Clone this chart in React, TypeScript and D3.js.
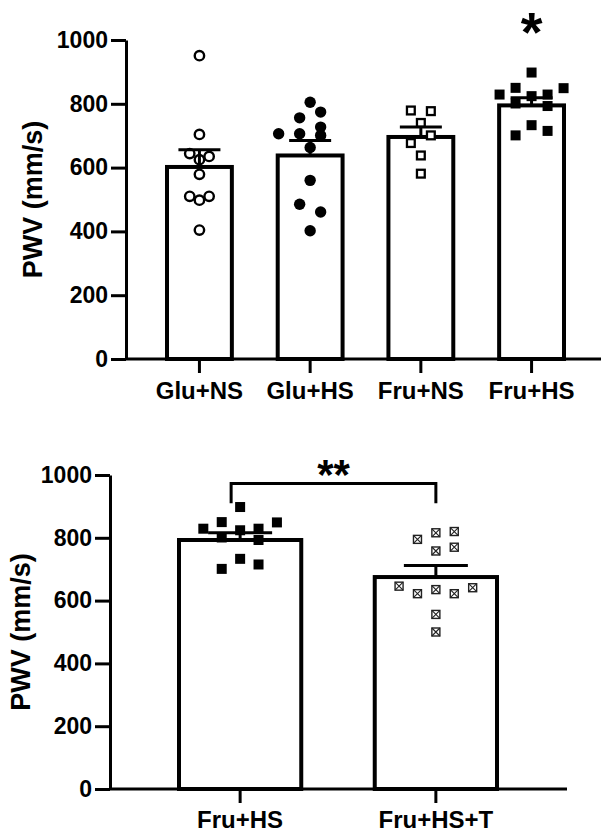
import React, { useEffect, useRef } from 'react';
import * as d3 from 'd3';

// ---- top panel data ----
const topGroups = ['Glu+NS', 'Glu+HS', 'Fru+NS', 'Fru+HS'];
const topMeans = [602, 638, 696, 795];
const topSem = [54, 47, 31, 24];

const gluNs = [951, 704, 644, 635, 625, 579, 510, 498, 510, 404];
const gluNsCol = [0, 0, -1, 1, 0, 0, -1, 0, 1, 0];
const gluHs = [805, 774, 756, 706, 706, 727, 701, 663, 560, 485, 461, 402];
const gluHsCol = [0, 1, -1, -3, -1, 1, 1, 0, 0, -1, 1, 0];
const fruNs = [779, 777, 740, 701, 677, 638, 581];
const fruNsCol = [-1, 1, 0, 1, -1, 0, 0];
const fruHs = [898, 850, 849, 829, 824, 829, 801, 793, 733, 701, 715];
const fruHsCol = [0, -2, 4, -4, 0, 2, -2, 2, 0, -2, 2];

// ---- bottom panel data ----
const bottomGroups = ['Fru+HS', 'Fru+HS+T'];
const bottomMeans = [793, 675];
const bottomSem = [23, 37];
const fruHsT = [795, 816, 820, 758, 770, 646, 622, 635, 622, 641, 556, 500];
const fruHsTCol = [-2, 0, 2, 0, 2, -4, -2, 0, 2, 4, 0, 0];

const yTicks = [0, 200, 400, 600, 800, 1000];
const FONT = "'Liberation Sans', Arial, sans-serif";

function drawMarker(g, type, cx, cy) {
  if (type === 'circleOpen') {
    g.append('circle').attr('cx', cx).attr('cy', cy).attr('r', 4.7)
      .attr('fill', 'white').attr('stroke', 'black').attr('stroke-width', 2.4);
  } else if (type === 'circleFilled') {
    g.append('circle').attr('cx', cx).attr('cy', cy).attr('r', 5.7).attr('fill', 'black');
  } else if (type === 'squareOpen') {
    g.append('rect').attr('x', cx - 3.9).attr('y', cy - 3.9).attr('width', 7.8).attr('height', 7.8)
      .attr('fill', 'white').attr('stroke', 'black').attr('stroke-width', 2.3);
  } else if (type === 'squareFilled') {
    g.append('rect').attr('x', cx - 5).attr('y', cy - 5).attr('width', 10).attr('height', 10).attr('fill', 'black');
  } else {
    const s = 4;
    g.append('rect').attr('x', cx - s).attr('y', cy - s).attr('width', 2 * s).attr('height', 2 * s)
      .attr('fill', 'white').attr('stroke', '#222').attr('stroke-width', 1.4);
    g.append('path').attr('d', `M${cx - s},${cy - s}L${cx + s},${cy + s}M${cx + s},${cy - s}L${cx - s},${cy + s}`)
      .attr('stroke', '#222').attr('stroke-width', 1.1);
  }
}

function drawPanel(svg, o) {
  const y = d3.scaleLinear().domain([0, 1000]).range([o.bottom, o.top]);
  const x = d3.scaleBand().domain(o.groups).range([o.bandLeft, o.bandRight])
    .paddingInner(o.pad).paddingOuter(0);
  const bw = x.bandwidth();
  const g = svg.append('g');

  // bars
  g.selectAll('rect.bar').data(o.groups).enter().append('rect')
    .attr('class', 'bar')
    .attr('x', d => x(d) + 2)
    .attr('width', bw - 4)
    .attr('y', (d, i) => y(o.means[i]))
    .attr('height', (d, i) => y(0) - y(o.means[i]))
    .attr('fill', 'white').attr('stroke', 'black').attr('stroke-width', 4);

  // scatter points
  o.groups.forEach((grp, i) => {
    const c = x(grp) + bw / 2;
    o.points[i].forEach((v, j) => {
      drawMarker(g, o.markers[i], c + o.cols[i][j] * o.colStep[i], y(v));
    });
  });

  // error bars (mean + SEM)
  o.groups.forEach((grp, i) => {
    const c = x(grp) + bw / 2;
    const yt = y(o.means[i] + o.sems[i]);
    g.append('path')
      .attr('d', `M${c},${y(o.means[i])}V${yt}M${c - o.capW / 2},${yt}H${c + o.capW / 2}`)
      .attr('stroke', 'black').attr('stroke-width', 3).attr('fill', 'none');
  });

  // y axis
  const ya = svg.append('g').attr('transform', `translate(${o.axisX},0)`)
    .call(d3.axisLeft(y).tickValues(yTicks).tickFormat(d3.format('d'))
      .tickSize(15).tickSizeOuter(0).tickPadding(3));
  ya.selectAll('path, line').attr('stroke-width', 3).attr('stroke', 'black');
  ya.selectAll('text').attr('font-size', 23).attr('font-weight', 'bold')
    .attr('font-family', FONT).attr('fill', 'black');

  // x axis
  svg.append('line').attr('x1', o.axisX).attr('x2', o.axisRight)
    .attr('y1', y(0)).attr('y2', y(0)).attr('stroke', 'black').attr('stroke-width', 3);
  o.groups.forEach(grp => {
    const c = x(grp) + bw / 2;
    svg.append('line').attr('x1', c).attr('x2', c).attr('y1', y(0)).attr('y2', y(0) + 14)
      .attr('stroke', 'black').attr('stroke-width', 3);
    svg.append('text').attr('x', c).attr('y', o.labelY).attr('text-anchor', 'middle')
      .attr('font-size', 24).attr('font-weight', 'bold').attr('font-family', FONT).text(grp);
  });

  // y title
  svg.append('text')
    .attr('transform', `translate(${o.titleX},${(o.top + o.bottom) / 2}) rotate(-90)`)
    .attr('text-anchor', 'middle').attr('font-size', 27).attr('font-weight', 'bold')
    .attr('font-family', FONT).text('PWV (mm/s)');

  return { x, y, bw };
}

export default function App() {
  const ref = useRef(null);

  useEffect(() => {
    const svg = d3.select(ref.current);
    svg.selectAll('*').remove();

    const t = drawPanel(svg, {
      groups: topGroups, means: topMeans, sems: topSem,
      points: [gluNs, gluHs, fruNs, fruHs],
      cols: [gluNsCol, gluHsCol, fruNsCol, fruHsCol],
      markers: ['circleOpen', 'circleFilled', 'squareOpen', 'squareFilled'],
      colStep: [9.7, 10.5, 10, 8],
      top: 40, bottom: 359, axisX: 126, bandLeft: 165, bandRight: 566, pad: 0.378,
      axisRight: 601, capW: 42, labelY: 399, titleX: 42,
    });
    svg.append('text').attr('x', t.x('Fru+HS') + t.bw / 2).attr('y', 51)
      .attr('text-anchor', 'middle').attr('font-size', 56).attr('font-weight', 'bold')
      .attr('font-family', FONT).text('*');

    const b = drawPanel(svg, {
      groups: bottomGroups, means: bottomMeans, sems: bottomSem,
      points: [fruHs, fruHsT],
      cols: [fruHsCol, fruHsTCol],
      markers: ['squareFilled', 'squareCross'],
      colStep: [9.2, 9.2],
      top: 475, bottom: 789, axisX: 110, bandLeft: 177, bandRight: 499, pad: 0.355,
      axisRight: 567, capW: 64, labelY: 828, titleX: 30,
    });
    // significance bracket
    const x1 = b.x('Fru+HS') + b.bw / 2 - 9;
    const x2 = b.x('Fru+HS+T') + b.bw / 2;
    svg.append('path')
      .attr('d', `M${x1},${b.y(910)}V${b.y(973)}H${x2}V${b.y(910)}`)
      .attr('fill', 'none').attr('stroke', 'black').attr('stroke-width', 3);
    svg.append('text').attr('x', (x1 + x2) / 2).attr('y', 489)
      .attr('text-anchor', 'middle').attr('font-size', 42).attr('font-weight', 'bold')
      .attr('font-family', FONT).text('**');
  }, []);

  return (
    <svg ref={ref} width={601} height={832}
      style={{ position: 'absolute', left: 0, top: 0, background: 'white' }} />
  );
}
